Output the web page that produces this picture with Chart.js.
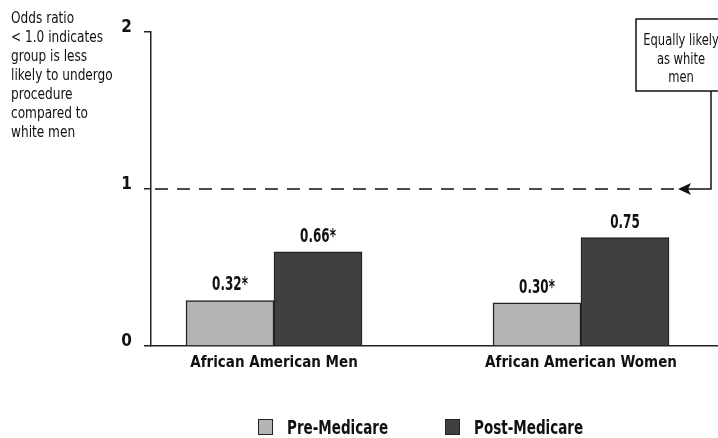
<!DOCTYPE html>
<html>
<head>
<meta charset="utf-8">
<script src="https://cdn.jsdelivr.net/npm/chart.js@4/dist/chart.umd.min.js"></script>
<style>
  html, body { margin: 0; padding: 0; background: #fff; }
  canvas { display: block; }
</style>
</head>
<body>
<canvas id="chart" width="718" height="438"></canvas>
<script>
const categories = ['African American Men', 'African American Women'];
const preMedicare = [0.29, 0.275];
const postMedicare = [0.60, 0.69];
const preLabels = ['0.32*', '0.30*'];
const postLabels = ['0.66*', '0.75'];
const yTicks = [0, 1, 2];
const noteLines = ['Odds ratio', '< 1.0 indicates', 'group is less', 'likely to undergo', 'procedure', 'compared to', 'white men'];
const boxLines = ['Equally likely', 'as white', 'men'];

const FONT = '"Liberation Sans Narrow", "Arial Narrow", "DejaVu Sans Condensed", sans-serif';

// narrow-looking text: squeeze horizontally
function narrowText(ctx, text, x, y, sx) {
  ctx.save();
  ctx.translate(x, y);
  ctx.scale(sx, 1);
  ctx.fillText(text, 0, 0);
  ctx.restore();
}

// value labels above the bars
const valueLabels = {
  id: 'valueLabels',
  afterDatasetsDraw(chart) {
    const ctx = chart.ctx;
    ctx.save();
    ctx.font = 'bold 19px ' + FONT;
    ctx.fillStyle = '#111';
    ctx.textAlign = 'center';
    chart.data.datasets.forEach((ds, di) => {
      chart.getDatasetMeta(di).data.forEach((bar, i) => {
        narrowText(ctx, ds.valueText[i], bar.x, bar.y - 10, 0.7);
      });
    });
    ctx.restore();
  }
};

// note text, reference line at 1 with box and arrow, legend
const extras = {
  id: 'extras',
  afterDraw(chart) {
    const ctx = chart.ctx;
    const area = chart.chartArea;
    const y1 = chart.scales.y.getPixelForValue(1);
    ctx.save();

    ctx.font = '15px ' + FONT;
    ctx.fillStyle = '#111';
    ctx.textAlign = 'left';
    noteLines.forEach((t, i) => narrowText(ctx, t, 11, 23 + i * 19, 0.9));

    // dashed line at 1
    ctx.strokeStyle = '#111';
    ctx.lineWidth = 1.5;
    ctx.setLineDash([13, 9]);
    ctx.beginPath();
    ctx.moveTo(area.left + 4, y1);
    ctx.lineTo(676, y1);
    ctx.stroke();
    ctx.setLineDash([]);

    // arrow head + connector up to the box
    ctx.fillStyle = '#111';
    ctx.beginPath();
    ctx.moveTo(678, y1);
    ctx.lineTo(691, y1 - 6);
    ctx.lineTo(688, y1);
    ctx.lineTo(691, y1 + 6);
    ctx.closePath();
    ctx.fill();
    ctx.beginPath();
    ctx.moveTo(686, y1);
    ctx.lineTo(711, y1);
    ctx.lineTo(711, 91);
    ctx.stroke();

    // box
    ctx.fillStyle = '#fff';
    ctx.fillRect(636, 19, 90, 72);
    ctx.strokeRect(636, 19, 90, 72);
    ctx.fillStyle = '#111';
    ctx.font = '16px ' + FONT;
    ctx.textAlign = 'center';
    boxLines.forEach((t, i) => narrowText(ctx, t, 681, 45 + i * 18.5, 0.8));

    // legend
    ctx.font = 'bold 19px ' + FONT;
    ctx.textAlign = 'left';
    const legendX = [258, 445];
    chart.data.datasets.forEach((ds, i) => {
      ctx.fillStyle = ds.backgroundColor;
      ctx.fillRect(legendX[i], 419, 14, 15);
      ctx.strokeStyle = '#222';
      ctx.lineWidth = 1;
      ctx.strokeRect(legendX[i] + 0.5, 419.5, 14, 15);
      ctx.fillStyle = '#111';
      narrowText(ctx, ds.label, legendX[i] + 29, 434, 0.79);
    });

    ctx.restore();
  }
};

new Chart(document.getElementById('chart'), {
  type: 'bar',
  data: {
    datasets: [
      {
        label: 'Pre-Medicare',
        data: preMedicare.map((v, i) => ({ x: i, y: v })),
        valueText: preLabels,
        backgroundColor: '#b4b4b4',
        borderColor: '#222',
        borderWidth: 1.5,
        barThickness: 88
      },
      {
        label: 'Post-Medicare',
        data: postMedicare.map((v, i) => ({ x: i, y: v })),
        valueText: postLabels,
        backgroundColor: '#404040',
        borderColor: '#222',
        borderWidth: 1.5,
        barThickness: 88
      }
    ]
  },
  options: {
    responsive: false,
    animation: false,
    devicePixelRatio: 1,
    layout: { padding: { top: 32, right: 0, bottom: 52, left: 0 } },
    plugins: {
      legend: { display: false },
      tooltip: { enabled: false }
    },
    scales: {
      x: {
        type: 'linear',
        offset: false,
        min: -0.4007,
        max: 1.4463,
        afterBuildTicks: scale => { scale.ticks = categories.map((c, i) => ({ value: i })); },
        afterFit: scale => { scale.height = 40; },
        grid: { offset: false, drawOnChartArea: false, drawTicks: false },
        border: { display: true, color: '#222', width: 1.5 },
        ticks: {
          autoSkip: false,
          maxRotation: 0,
          padding: 8,
          color: '#111',
          font: { family: FONT, size: 15, weight: 'bold' },
          callback: v => categories[v]
        }
      },
      y: {
        min: 0,
        max: 2,
        afterBuildTicks: scale => { scale.ticks = yTicks.map(v => ({ value: v })); },
        afterFit: scale => { scale.width = 151; },
        grid: { drawOnChartArea: false, drawTicks: true, tickLength: 7, color: '#222', lineWidth: 1.5 },
        border: { display: true, color: '#222', width: 1.5 },
        ticks: {
          padding: 12,
          labelOffset: -4,
          color: '#111',
          font: { family: FONT, size: 17, weight: 'bold' }
        }
      }
    }
  },
  plugins: [valueLabels, extras]
});
</script>
</body>
</html>
